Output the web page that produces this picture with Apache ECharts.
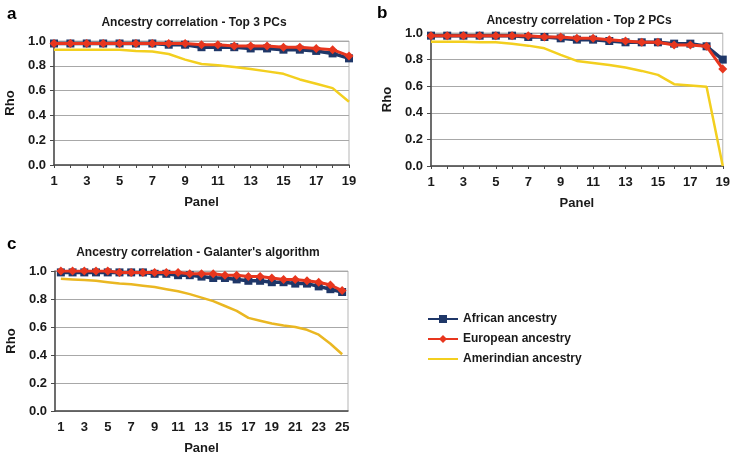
<!DOCTYPE html>
<html>
<head>
<meta charset="utf-8">
<script src="https://cdn.jsdelivr.net/npm/echarts@6/dist/echarts.min.js"></script>
<style>
html, body { margin: 0; padding: 0; background: #fff; }
#chart { width: 733px; height: 456px; }
</style>
</head>
<body>
<div id="chart"></div>
<script>
// panel numbers
var panels19 = ['1','2','3','4','5','6','7','8','9','10','11','12','13','14','15','16','17','18','19'];
var panels25 = ['1','2','3','4','5','6','7','8','9','10','11','12','13','14','15','16','17','18','19','20','21','22','23','24','25'];

// a - top 3 PCs
var afrA = [0.98,0.98,0.98,0.98,0.98,0.98,0.98,0.97,0.97,0.95,0.95,0.95,0.94,0.94,0.93,0.93,0.92,0.90,0.86];
var eurA = [0.98,0.98,0.98,0.98,0.98,0.98,0.98,0.98,0.98,0.97,0.97,0.96,0.96,0.96,0.95,0.95,0.94,0.93,0.88];
var amrA = [0.93,0.93,0.93,0.93,0.93,0.92,0.915,0.895,0.85,0.815,0.805,0.79,0.775,0.755,0.735,0.69,0.655,0.62,0.51];

// b - top 2 PCs
var afrB = [0.98,0.98,0.98,0.98,0.98,0.98,0.97,0.97,0.96,0.95,0.95,0.94,0.93,0.93,0.93,0.92,0.92,0.90,0.80];
var eurB = [0.98,0.98,0.98,0.98,0.98,0.98,0.98,0.97,0.97,0.96,0.96,0.95,0.94,0.93,0.93,0.91,0.91,0.90,0.73];
var amrB = [0.935,0.935,0.935,0.93,0.93,0.92,0.905,0.885,0.835,0.79,0.775,0.76,0.74,0.715,0.685,0.615,0.605,0.595,0.0];

// c - Galanter's algorithm
var afrC = [0.99,0.99,0.99,0.99,0.99,0.99,0.99,0.99,0.98,0.98,0.97,0.97,0.96,0.95,0.95,0.94,0.93,0.93,0.92,0.92,0.91,0.91,0.89,0.87,0.85];
var eurC = [1.0,1.0,1.0,1.0,1.0,0.99,0.99,0.99,0.99,0.99,0.99,0.98,0.98,0.98,0.97,0.97,0.96,0.96,0.95,0.94,0.94,0.93,0.92,0.90,0.86];
var amrC = [0.945,0.94,0.935,0.93,0.92,0.91,0.905,0.895,0.885,0.87,0.855,0.835,0.81,0.785,0.75,0.715,0.665,0.645,0.625,0.61,0.6,0.58,0.545,0.48,0.405];

var yTicks = [0, 0.2, 0.4, 0.6, 0.8, 1.0];

var NAVY = '#1f3768', RED = '#e8361e', GOLD = '#f3cf1f', GOLD_C = '#eab722';
var FONT = 'Liberation Sans, Arial, sans-serif';
var TXT = '#1a1a1a';

var chart = echarts.init(document.getElementById('chart'));

function xAxis(idx, cats, gap, ticks) {
    return {
        type: 'category', gridIndex: idx, data: cats, boundaryGap: gap,
        name: 'Panel', nameLocation: 'middle', nameGap: 31,
        nameTextStyle: { fontFamily: FONT, fontWeight: 'bold', fontSize: 13, color: TXT },
        axisLine: { lineStyle: { color: '#4a4a4a', width: 1.5 } },
        axisTick: { show: ticks, interval: 0, length: 3, alignWithLabel: true, lineStyle: { color: '#4a4a4a' } },
        axisLabel: { interval: 1, margin: 10, fontFamily: FONT, fontWeight: 'bold', fontSize: 13, color: TXT },
        splitLine: { show: false }
    };
}
function yAxis(idx) {
    return {
        type: 'value', gridIndex: idx, min: yTicks[0], max: yTicks[yTicks.length - 1], interval: 0.2,
        name: 'Rho', nameLocation: 'middle', nameGap: 37,
        nameTextStyle: { fontFamily: FONT, fontWeight: 'bold', fontSize: 13, color: TXT },
        axisLine: { show: true, lineStyle: { color: '#4a4a4a', width: 1.5 } },
        axisTick: { show: true, length: 4, lineStyle: { color: '#4a4a4a' } },
        axisLabel: { margin: 8, fontFamily: FONT, fontWeight: 'bold', fontSize: 13, color: TXT,
            formatter: function (v) { return v.toFixed(1); } },
        splitLine: { lineStyle: { color: '#a8a8a8', width: 1 } }
    };
}
function trio(idx, afr, eur, amr, gold) {
    return [
        { name: 'African ancestry', type: 'line', xAxisIndex: idx, yAxisIndex: idx, data: afr,
          symbol: 'rect', symbolSize: 8, showAllSymbol: true, lineStyle: { color: NAVY, width: 3.5 },
          itemStyle: { color: NAVY }, z: 3 },
        { name: 'European ancestry', type: 'line', xAxisIndex: idx, yAxisIndex: idx, data: eur,
          symbol: 'diamond', symbolSize: 9, showAllSymbol: true, lineStyle: { color: RED, width: 3 },
          itemStyle: { color: RED }, z: 4 },
        { name: 'Amerindian ancestry', type: 'line', xAxisIndex: idx, yAxisIndex: idx, data: amr,
          symbol: 'none', lineStyle: { color: gold, width: 2.5 },
          itemStyle: { color: gold }, z: 2 }
    ];
}

var titleStyle = { fontFamily: FONT, fontWeight: 'bold', fontSize: 12, color: TXT };
var letterStyle = { fontFamily: FONT, fontWeight: 'bold', fontSize: 17, color: '#000' };

chart.setOption({
    animation: false,
    title: [
        { text: 'Ancestry correlation - Top 3 PCs', left: 189, top: 12, textAlign: 'center', textStyle: titleStyle },
        { text: 'Ancestry correlation - Top 2 PCs', left: 574, top: 10, textAlign: 'center', textStyle: titleStyle },
        { text: "Ancestry correlation - Galanter's algorithm", left: 193, top: 242, textAlign: 'center', textStyle: titleStyle },
        { text: 'a', left: 2, top: 1, textStyle: letterStyle },
        { text: 'b', left: 372, top: 0, textStyle: letterStyle },
        { text: 'c', left: 2, top: 231, textStyle: letterStyle }
    ],
    legend: {
        orient: 'vertical', left: 422, top: 308, itemWidth: 30, itemHeight: 10, itemGap: 8,
        data: [
            { name: 'African ancestry' },
            { name: 'European ancestry' },
            { name: 'Amerindian ancestry', itemStyle: { opacity: 0 } }
        ],
        textStyle: { fontFamily: FONT, fontWeight: 'bold', fontSize: 12, color: TXT }
    },
    grid: [
        { left: 54, right: 384, top: 41, bottom: 291, show: true, borderColor: '#b5b5b5', borderWidth: 1 },
        { left: 431, right: 9, top: 33, bottom: 290, show: true, borderColor: '#b5b5b5', borderWidth: 1 },
        { left: 55, right: 385, top: 271, bottom: 45, show: true, borderColor: '#b5b5b5', borderWidth: 1 }
    ],
    xAxis: [xAxis(0, panels19, false, true), xAxis(1, panels19, false, true), xAxis(2, panels25, true, false)],
    yAxis: [yAxis(0), yAxis(1), yAxis(2)],
    series: [].concat(trio(0, afrA, eurA, amrA, GOLD), trio(1, afrB, eurB, amrB, GOLD), trio(2, afrC, eurC, amrC, GOLD_C))
});
</script>
</body>
</html>
